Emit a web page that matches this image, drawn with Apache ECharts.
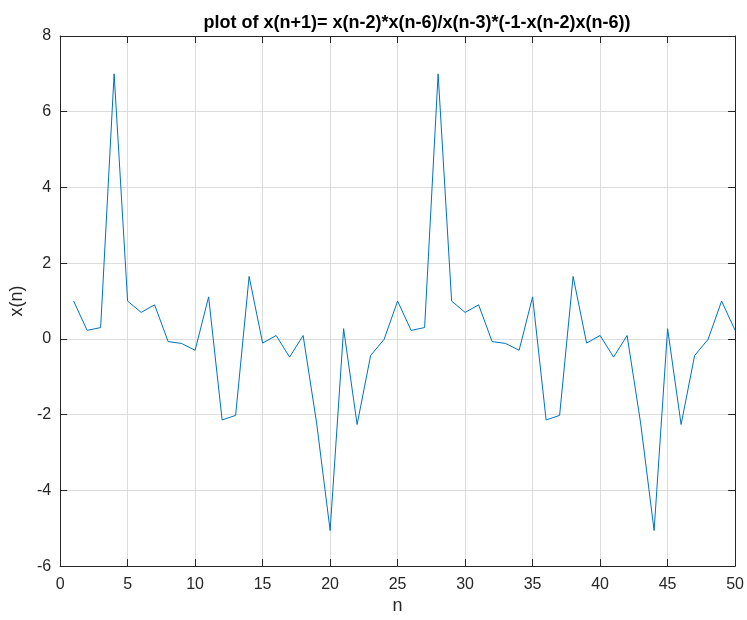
<!DOCTYPE html>
<html>
<head>
<meta charset="utf-8">
<script src="https://cdn.jsdelivr.net/npm/echarts@6/dist/echarts.min.js"></script>
<style>html,body{margin:0;padding:0;background:#fff;}#c{width:747px;height:620px;}</style>
</head>
<body>
<div id="c"></div>
<script>
const nValues = [1,2,3,4,5,6,7,8,9,10,11,12,13,14,15,16,17,18,19,20,21,22,23,24,25,26,27,28,29,30,31,32,33,34,35,36,37,38,39,40,41,42,43,44,45,46,47,48,49,50];
const xValues = [1, 0.225, 0.3, 7, 1, 0.7, 0.9, -0.07, -0.12, -0.3, 1.11, -2.14, -2.02, 1.65, -0.11, 0.09, -0.48, 0.09, -2.22, -5.06, 0.27, -2.26, -0.44, -0.01,
                 1, 0.225, 0.3, 7, 1, 0.7, 0.9, -0.07, -0.12, -0.3, 1.11, -2.14, -2.02, 1.65, -0.11, 0.09, -0.48, 0.09, -2.22, -5.06, 0.27, -2.26, -0.44, -0.01,
                 1, 0.225];
const xTicks = [0,5,10,15,20,25,30,35,40,45,50];
const yTicks = [-6,-4,-2,0,2,4,6,8];
const titleText = 'plot of x(n+1)= x(n-2)*x(n-6)/x(n-3)*(-1-x(n-2)x(n-6))';

const chart = echarts.init(document.getElementById('c'), null, {renderer: 'canvas', width: 747, height: 620});
const font = 'Liberation Sans, Arial, Helvetica, sans-serif';
const axisCol = '#262626';
const gridCol = '#dcdcdc';
const data = nValues.map((n, i) => [n, xValues[i]]);

function xAx(pos, show) {
  return {
    type: 'value', position: pos, min: 0, max: 50, interval: 5,
    axisLine: {show: true, onZero: false, lineStyle: {color: axisCol, width: 1}},
    axisTick: {show: true, inside: true, length: 7, lineStyle: {color: axisCol}},
    axisLabel: {show: show, color: axisCol, fontSize: 16, fontFamily: font, margin: 10},
    splitLine: {show: show, lineStyle: {color: gridCol, width: 1}},
    name: show ? 'n' : '', nameLocation: 'middle', nameGap: 28,
    nameTextStyle: {color: axisCol, fontSize: 18, fontFamily: font}
  };
}
function yAx(pos, show) {
  return {
    type: 'value', position: pos, min: -6, max: 8, interval: 2,
    axisLine: {show: true, onZero: false, lineStyle: {color: axisCol, width: 1}},
    axisTick: {show: true, inside: true, length: 7, lineStyle: {color: axisCol}},
    axisLabel: {show: show, color: axisCol, fontSize: 16, fontFamily: font, margin: 9},
    splitLine: {show: show, lineStyle: {color: gridCol, width: 1}},
    name: show ? 'x(n)' : '', nameLocation: 'middle', nameGap: 22, nameRotate: 90,
    nameTextStyle: {color: axisCol, fontSize: 18, fontFamily: font}
  };
}

chart.setOption({
  animation: false,
  backgroundColor: '#ffffff',
  title: {
    text: titleText, left: 412, top: 9, textAlign: 'center',
    textStyle: {fontSize: 18, fontWeight: 'bold', color: '#000', fontFamily: font}
  },
  grid: {left: 59, width: 677, top: 36, height: 536, containLabel: false},
  xAxis: [xAx('bottom', true), xAx('top', false)],
  yAxis: [yAx('left', true), yAx('right', false)],
  series: [{
    type: 'line', data: data, xAxisIndex: 0, yAxisIndex: 0,
    showSymbol: false, symbol: 'none',
    lineStyle: {color: '#0072BD', width: 1},
    clip: true
  }]
});
</script>
</body>
</html>
